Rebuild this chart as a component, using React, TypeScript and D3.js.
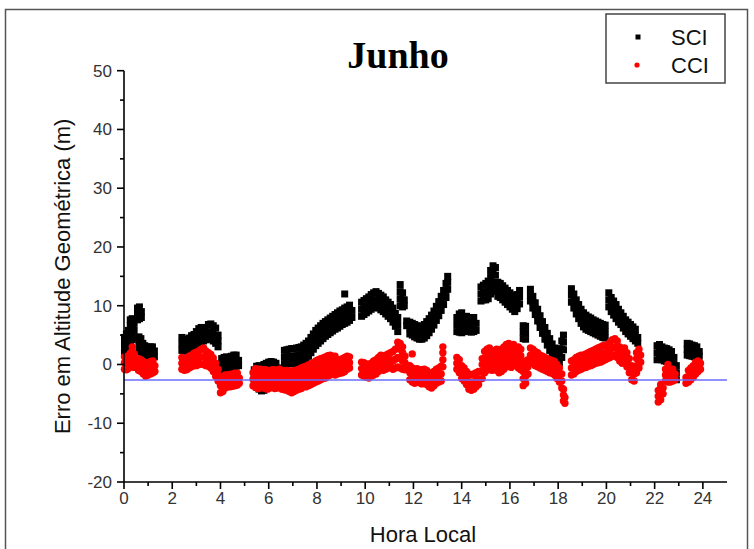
import React from "react";
import * as d3 from "d3";

const W = 754;
const H = 549;

const xTicks = [0, 2, 4, 6, 8, 10, 12, 14, 16, 18, 20, 22, 24];
const yTicks = [-20, -10, 0, 10, 20, 30, 40, 50];
const refLevel = -2.65;
const titleText = "Junho";
const xLabel = "Hora Local";
const yLabel = "Erro em Altitude Geométrica (m)";
const seriesNames = ["SCI", "CCI"];

// Each row: [hour, observed values at that hour...]
const sciRows: number[][] = [
  [0.02, 2.2, 3.4, 4.6], [0.1, 2.8, 4.0, 5.2], [0.18, 3.4, 4.6, 5.8], [0.26, 4.0, 5.3, 6.6, 7.6],
  [0.34, 4.2, 5.5, 6.8, 7.8], [0.42, 4.5, 5.8, 7.0],
  [0.56, 7.6, 8.6, 9.6], [0.64, 7.8, 8.8, 9.8], [0.72, 8.0, 9.0],
  [0.62, 2.5, 3.6, 4.7], [0.7, 2.2, 3.3, 4.4], [0.78, 1.6, 2.6, 3.6], [0.86, 1.2, 2.2, 3.2],
  [0.94, 1.1, 2.1, 3.0], [1.02, 1.0, 2.0, 2.9], [1.1, 1.1, 2.1, 3.0], [1.18, 1.2, 2.2, 3.0], [1.26, 1.3, 2.3],
  [2.4, 2.4, 3.5, 4.6], [2.5, 2.3, 3.3, 4.3], [2.6, 2.3, 3.2, 4.1], [2.7, 2.5, 3.5, 4.5],
  [2.8, 2.7, 3.8, 4.9], [2.9, 2.9, 4.0, 5.1], [3.0, 3.3, 4.4, 5.6], [3.1, 3.6, 4.8, 6.1],
  [3.2, 3.8, 5.0, 6.3], [3.3, 4.0, 5.1, 6.2], [3.4, 4.2, 5.2, 6.3], [3.5, 4.4, 5.5, 6.8],
  [3.6, 4.3, 5.5, 6.9], [3.7, 4.0, 5.3, 6.6], [3.8, 3.6, 4.8, 6.2], [3.9, 3.0, 4.0, 5.0],
  [4.05, -1.0, 0.0, 1.0], [4.15, -0.8, 0.2, 1.2], [4.25, -0.6, 0.4, 1.3], [4.35, -0.7, 0.3, 1.2],
  [4.45, -0.6, 0.4, 1.4], [4.55, -0.4, 0.6, 1.6], [4.65, -0.3, 0.6, 1.6], [4.75, -0.2, 0.7],
  [5.4, -3.5, -2.2, -0.9], [5.5, -3.8, -2.5, -1.2, -0.3], [5.6, -4.2, -2.8, -1.4, -0.2],
  [5.7, -4.5, -3.0, -1.5, -0.3], [5.8, -4.4, -2.9, -1.3, 0.0], [5.9, -3.8, -2.5, -1.1, 0.2],
  [6.0, -3.5, -2.2, -0.9, 0.4], [6.1, -3.3, -2.0, -0.7, 0.5], [6.2, -3.0, -1.8, -0.6, 0.4],
  [6.3, -3.0, -1.8, -0.6, 0.2], [6.4, -3.0, -1.9, -0.8], [6.5, -2.8, -1.7, -0.6],
  [6.65, 0.0, 1.2, 2.4], [6.75, 0.1, 1.3, 2.5], [6.85, 0.1, 1.3, 2.6], [6.95, 0.2, 1.4, 2.7],
  [7.05, 0.2, 1.4, 2.7], [7.15, 0.3, 1.5, 2.8], [7.25, 0.4, 1.6, 2.9], [7.35, 0.5, 1.8, 3.0],
  [7.45, 0.7, 2.0, 3.3], [7.55, 1.0, 2.3, 3.6],
  [7.65, 1.4, 2.7, 4.0], [7.75, 2.0, 3.3, 4.6], [7.85, 2.6, 3.9, 5.2], [7.95, 3.2, 4.5, 5.8],
  [8.05, 3.6, 4.9, 6.2], [8.15, 4.0, 5.3, 6.6], [8.25, 4.4, 5.7, 7.0], [8.35, 4.8, 6.0, 7.3],
  [8.45, 5.1, 6.3, 7.6], [8.55, 5.4, 6.6, 7.9], [8.65, 5.7, 6.9, 8.2], [8.75, 6.0, 7.2, 8.5],
  [8.85, 6.2, 7.5, 8.8], [8.95, 6.5, 7.8, 9.1], [9.05, 6.8, 8.0, 9.3], [9.15, 7.0, 8.3, 9.6, 12.0],
  [9.25, 7.2, 8.5, 9.8], [9.35, 7.5, 8.8, 10.1], [9.45, 8.0, 9.2],
  [9.85, 8.2, 9.4, 10.6], [9.95, 8.5, 9.7, 10.9], [10.05, 8.8, 10.0, 11.2], [10.15, 9.1, 10.3, 11.5],
  [10.25, 9.4, 10.6, 11.9], [10.35, 9.7, 10.9, 12.2], [10.45, 9.8, 11.0, 12.4], [10.55, 9.6, 10.8, 12.1],
  [10.65, 9.3, 10.5, 11.8], [10.75, 9.0, 10.2, 11.5], [10.85, 8.6, 9.8, 11.0], [10.95, 8.2, 9.4, 10.6],
  [11.05, 7.8, 9.0, 10.2], [11.15, 7.2, 8.4, 9.6], [11.25, 6.5, 7.6, 8.7], [11.35, 5.6, 6.8, 8.0],
  [11.45, 10.0, 11.2, 12.4, 13.6], [11.55, 9.8, 11.0, 12.2], [11.62, 10.0, 11.0], [11.72, 6.6, 7.4],
  [11.85, 5.2, 6.2, 7.2], [11.95, 5.0, 6.0, 7.0], [12.05, 4.7, 5.7, 6.8], [12.15, 4.5, 5.5, 6.6],
  [12.25, 4.3, 5.4, 6.5], [12.35, 4.3, 5.4, 6.5], [12.45, 4.5, 5.6, 6.8], [12.55, 4.9, 6.1, 7.3],
  [12.65, 5.4, 6.6, 7.8], [12.75, 6.0, 7.2, 8.4], [12.85, 6.7, 7.9, 9.1], [12.95, 7.5, 8.7, 9.9],
  [13.05, 8.3, 9.5, 10.7], [13.15, 9.2, 10.4, 11.6], [13.25, 10.2, 11.4, 12.6], [13.35, 11.4, 12.6, 13.8],
  [13.42, 12.8, 14.0, 15.0],
  [13.8, 5.6, 6.8, 8.0], [13.9, 5.5, 6.7, 7.9, 8.6], [14.0, 5.4, 6.6, 7.8, 8.8], [14.1, 5.6, 6.8, 8.0],
  [14.2, 5.8, 7.0, 8.2], [14.3, 5.6, 6.8, 8.0], [14.4, 5.5, 6.7, 7.9], [14.5, 5.6, 6.8, 8.0], [14.6, 5.8, 7.0],
  [14.8, 10.8, 12.0, 13.2], [14.9, 11.0, 12.2, 13.5], [15.0, 11.0, 12.3, 13.8], [15.1, 11.2, 12.6, 14.2],
  [15.2, 12.0, 13.4, 14.8, 16.0], [15.3, 12.6, 14.0, 15.4, 16.8], [15.4, 12.4, 13.8, 15.2, 16.5],
  [15.5, 11.6, 12.8, 14.0], [15.6, 11.4, 12.6, 13.8], [15.7, 11.0, 12.2, 13.4], [15.8, 10.6, 11.8, 13.0],
  [15.9, 10.2, 11.4, 12.6], [16.0, 9.8, 11.0, 12.2], [16.1, 9.4, 10.6, 11.8], [16.2, 9.0, 10.2, 11.4],
  [16.3, 9.5, 10.7, 11.9], [16.4, 10.3, 11.5, 12.6],
  [16.55, 4.4, 5.5, 6.6], [16.65, 4.3, 5.4, 6.5],
  [16.85, 10.8, 11.8, 12.8], [16.95, 9.6, 10.6, 11.6], [17.05, 8.5, 9.5, 10.5], [17.15, 7.4, 8.4, 9.4],
  [17.25, 6.3, 7.3, 8.3], [17.35, 5.3, 6.3, 7.3], [17.45, 4.3, 5.3, 6.3], [17.55, 3.3, 4.3, 5.3],
  [17.65, 2.4, 3.4, 4.4], [17.75, 1.5, 2.5, 3.5], [17.85, 0.8, 1.8, 2.8], [17.95, 0.3, 1.3, 2.3],
  [18.05, 0.3, 1.5, 2.7], [18.15, 1.2, 2.6, 4.0], [18.22, 2.5, 3.8, 5.0],
  [18.55, 10.6, 11.8, 12.9], [18.65, 9.6, 10.8, 12.0], [18.75, 8.6, 9.8, 11.0], [18.85, 7.8, 9.0, 10.2],
  [18.95, 7.0, 8.2, 9.4], [19.05, 6.4, 7.6, 8.8], [19.15, 6.0, 7.2, 8.4], [19.25, 5.8, 7.0, 8.1],
  [19.35, 5.6, 6.8, 7.9], [19.45, 5.4, 6.5, 7.6], [19.55, 5.2, 6.3, 7.4], [19.65, 5.0, 6.1, 7.2],
  [19.75, 4.8, 5.9, 7.0], [19.85, 4.6, 5.7, 6.8], [19.95, 4.5, 5.6, 6.7],
  [20.1, 9.8, 11.0, 12.2], [20.2, 9.0, 10.2, 11.4], [20.3, 8.4, 9.6, 10.8], [20.4, 7.8, 9.0, 10.2],
  [20.5, 7.2, 8.4, 9.4], [20.6, 6.8, 7.8, 8.8], [20.7, 6.2, 7.2, 8.2], [20.8, 5.6, 6.6, 7.6],
  [20.9, 5.2, 6.2, 7.2], [21.0, 4.8, 5.8, 6.8], [21.1, 4.4, 5.4, 6.4], [21.2, 4.0, 5.0, 6.0], [21.3, 3.6, 4.6],
  [22.1, 0.8, 2.0, 3.2], [22.2, 1.0, 2.2, 3.4], [22.3, 0.8, 1.9, 3.0], [22.4, 0.6, 1.7, 2.8],
  [22.5, 0.5, 1.6, 2.7], [22.6, 0.3, 1.4, 2.5], [22.7, 0.0, 1.1, 2.2], [22.8, -1.2, 0.0, 1.2],
  [22.9, -2.6, -1.4, -0.2],
  [23.35, 1.6, 2.6, 3.6], [23.45, 1.5, 2.5, 3.5], [23.55, 1.4, 2.4, 3.3], [23.65, 1.3, 2.3, 3.2],
  [23.75, 1.3, 2.2, 3.0], [23.85, 1.4, 2.2],
];

const cciRows: number[][] = [
  [0.02, -0.8, 0.3, 1.3], [0.1, -0.9, 0.2, 1.2], [0.18, -0.7, 0.4, 1.5], [0.26, -0.4, 0.7, 1.9],
  [0.34, -0.2, 1.0, 2.3, 3.0], [0.42, -0.5, 0.6, 1.8],
  [0.6, -1.0, 0.0, 1.0], [0.7, -1.2, -0.2, 0.8], [0.8, -1.6, -0.6, 0.5], [0.9, -2.0, -0.9, 0.3],
  [1.0, -1.8, -0.8, 0.3], [1.1, -1.6, -0.6, 0.5], [1.2, -1.4, -0.4, 0.6], [1.28, -1.2, -0.2],
  [2.4, -0.8, 0.2, 1.2], [2.5, -1.0, 0.0, 1.0], [2.6, -0.9, 0.1, 1.1], [2.7, -0.6, 0.4, 1.4],
  [2.8, -0.4, 0.6, 1.6], [2.9, -0.2, 0.8, 1.9], [3.0, -0.2, 0.9, 2.1], [3.1, 0.0, 1.1, 2.3],
  [3.2, 0.1, 1.3, 2.6], [3.3, 0.0, 1.3, 2.8], [3.4, -0.2, 1.0, 2.3], [3.5, -0.3, 0.8, 2.0],
  [3.6, -0.6, 0.5, 1.7], [3.7, -1.2, -0.1, 1.1], [3.8, -2.0, -0.9, 0.2], [3.9, -2.8, -1.8, -0.8],
  [4.0, -4.8, -3.6, -2.4], [4.1, -4.6, -3.4, -2.2], [4.2, -4.0, -2.9, -1.8], [4.3, -3.8, -2.8, -1.8],
  [4.4, -3.8, -2.8, -1.7], [4.5, -3.7, -2.7, -1.6], [4.6, -3.6, -2.6, -1.5], [4.7, -3.5, -2.5, -1.5],
  [4.78, -3.2, -2.3],
  [5.35, -3.6, -2.5, -1.4], [5.45, -3.9, -2.8, -1.7, -0.7], [5.55, -4.1, -3.0, -1.9, -0.8],
  [5.65, -4.0, -2.9, -1.8, -0.8], [5.75, -3.8, -2.8, -1.8, -0.9], [5.85, -4.1, -3.0, -1.9, -0.9],
  [5.95, -4.2, -3.1, -2.0, -1.0], [6.05, -4.0, -3.0, -2.0, -1.0], [6.15, -3.9, -2.9, -1.9, -0.9],
  [6.25, -4.1, -3.0, -1.9, -0.9], [6.35, -4.0, -3.0, -2.0, -1.0], [6.45, -3.8, -2.8, -1.8, -0.8],
  [6.55, -4.2, -3.1, -2.0, -1.0], [6.65, -4.3, -3.2, -2.1, -1.1], [6.75, -4.4, -3.3, -2.2, -1.0],
  [6.85, -4.6, -3.4, -2.2, -1.1], [6.95, -4.8, -3.6, -2.4, -1.2], [7.05, -4.6, -3.4, -2.2, -1.0],
  [7.15, -4.4, -3.3, -2.2, -1.0], [7.25, -4.2, -3.1, -2.0, -0.8], [7.35, -4.1, -3.0, -1.8, -0.6],
  [7.45, -3.8, -2.7, -1.5, -0.4], [7.55, -3.8, -2.6, -1.4, -0.3], [7.65, -3.6, -2.4, -1.2, -0.1],
  [7.75, -3.4, -2.2, -1.0, 0.1], [7.85, -3.2, -2.0, -0.8, 0.3], [7.95, -3.0, -1.8, -0.6, 0.6],
  [8.05, -2.8, -1.6, -0.4, 0.8], [8.15, -2.6, -1.4, -0.2, 1.0], [8.25, -2.4, -1.2, 0.0, 1.1],
  [8.35, -2.3, -1.1, 0.1, 1.3], [8.45, -2.0, -0.8, 0.4, 1.5], [8.55, -1.8, -0.6, 0.6, 1.6],
  [8.65, -1.6, -0.5, 0.6, 1.4], [8.75, -1.8, -0.6, 0.6, 1.4], [8.85, -1.6, -0.5, 0.6],
  [8.95, -1.5, -0.4, 0.8], [9.05, -1.4, -0.2, 1.0], [9.15, -1.2, -0.1, 1.2], [9.25, -0.8, 0.2, 1.4],
  [9.35, -0.6, 0.3, 1.3],
  [9.85, -1.8, -0.7, 0.4], [9.95, -2.0, -0.9, 0.3], [10.05, -2.2, -1.1, 0.1], [10.15, -2.3, -1.2, 0.0],
  [10.25, -2.0, -0.9, 0.2], [10.35, -1.8, -0.6, 0.6], [10.45, -1.6, -0.4, 0.8], [10.55, -1.2, 0.0, 1.2],
  [10.65, -0.8, 0.4, 1.6], [10.75, -1.0, 0.2, 1.4], [10.85, -0.8, 0.4, 1.6], [10.95, -0.6, 0.6, 1.8],
  [11.05, -0.4, 0.8, 2.0], [11.15, -0.8, 0.6, 2.2], [11.25, -0.6, 0.9, 2.6],
  [11.35, -0.4, 1.2, 2.8, 3.8], [11.45, -0.6, 1.0, 2.6, 3.6], [11.55, -0.8, 0.6, 2.0, 3.0],
  [11.65, -0.9, 0.3, 1.4],
  [11.85, -2.6, -1.4, -0.2], [11.95, -3.0, -1.8, -0.6, 1.8], [12.05, -3.2, -2.0, -0.8],
  [12.15, -3.0, -1.9, -0.7], [12.25, -3.1, -2.0, -0.9], [12.35, -3.3, -2.1, -0.9], [12.45, -3.2, -2.0, -0.8],
  [12.55, -3.4, -2.2, -1.0], [12.65, -3.8, -2.6, -1.4], [12.75, -4.0, -2.8, -1.6], [12.85, -3.6, -2.4, -1.2],
  [12.95, -3.2, -2.0, -0.8], [13.05, -3.0, -1.8, -0.6], [13.15, -2.8, -1.6, -0.3],
  [13.22, -0.4, 0.8, 2.0, 3.0],
  [13.8, -0.8, 0.2, 1.2], [13.9, -1.4, -0.3, 0.8], [14.0, -2.4, -1.3, -0.2], [14.1, -2.8, -1.7, -0.6],
  [14.2, -3.4, -2.3, -1.2], [14.3, -4.2, -3.0, -1.6], [14.4, -4.4, -3.2, -1.8], [14.5, -4.2, -3.0, -1.6],
  [14.6, -3.8, -2.7, -1.4], [14.7, -3.4, -2.4, -1.2],
  [14.85, -2.4, -1.2, 0.0, 1.0], [14.95, -1.4, -0.2, 1.0, 2.2], [15.05, -1.0, 0.2, 1.4, 2.6],
  [15.15, -0.8, 0.4, 1.6, 2.8], [15.25, -1.0, 0.2, 1.4, 2.4], [15.35, -0.9, 0.3, 1.5],
  [15.45, -1.0, 0.2, 1.4, 2.6], [15.55, -1.4, -0.2, 1.0, 2.4], [15.65, -1.2, 0.0, 1.2, 2.6],
  [15.75, -0.8, 0.4, 1.6, 3.0], [15.85, -0.4, 0.8, 2.0, 3.4], [15.95, -0.3, 0.9, 2.2, 3.6],
  [16.05, -0.5, 0.7, 1.9, 3.2], [16.15, -0.2, 1.0, 2.2, 3.4], [16.25, 0.0, 1.2, 2.4],
  [16.35, -0.6, 0.6, 1.8, 3.0], [16.45, -0.9, 0.3, 1.5, 2.6],
  [16.55, -3.6, -2.4, -1.2, 0.0], [16.65, -3.2, -2.0, -0.8, 0.6], [16.75, -1.6, -0.4, 0.8],
  [16.85, 0.4, 1.6, 2.8], [16.95, 0.2, 1.4, 2.6], [17.05, -0.2, 1.0, 2.2], [17.15, -0.4, 0.8, 2.0],
  [17.25, -0.6, 0.5, 1.6], [17.35, -0.8, 0.3, 1.4], [17.45, -1.0, 0.1, 1.2], [17.55, -1.2, -0.1, 1.0],
  [17.65, -1.4, -0.3, 0.8], [17.75, -1.5, -0.4, 0.7], [17.85, -1.8, -0.6, 0.5], [17.95, -2.4, -1.2, 0.0],
  [18.05, -3.0, -1.8, -0.6], [18.15, -4.0, -2.8, -1.6], [18.22, -6.2, -5.2, -4.2], [18.28, -6.6, -5.6],
  [18.55, -1.8, -0.6, 0.6], [18.65, -1.6, -0.4, 0.8], [18.75, -1.2, 0.0, 1.2], [18.85, -1.0, 0.2, 1.4],
  [18.95, -0.8, 0.4, 1.6], [19.05, -0.6, 0.5, 1.6], [19.15, -0.5, 0.7, 1.8], [19.25, -0.3, 0.9, 2.0],
  [19.35, -0.2, 1.0, 2.2], [19.45, 0.0, 1.2, 2.4], [19.55, 0.2, 1.4, 2.6], [19.65, 0.3, 1.5, 2.8],
  [19.75, 0.4, 1.7, 3.0], [19.85, 0.6, 1.9, 3.2], [19.95, 0.8, 2.0, 3.2],
  [20.05, 1.0, 2.2, 3.4], [20.15, 1.2, 2.5, 3.8], [20.25, 1.4, 2.8, 4.2], [20.35, 1.6, 3.0, 4.4],
  [20.45, 1.2, 2.6, 4.0], [20.55, 0.6, 1.8, 3.0], [20.65, 0.2, 1.4, 2.6], [20.75, 0.4, 1.6, 2.8],
  [20.85, -0.4, 0.8, 2.0], [20.95, -1.4, -0.2, 1.0], [21.05, -2.6, -1.4, -0.2], [21.15, -2.8, -1.6, -0.4],
  [21.25, -1.4, -0.2, 1.0, 2.0], [21.35, -0.6, 0.6, 1.8, 2.6], [21.42, 0.4, 1.6],
  [22.15, -6.4, -5.4, -4.4], [22.25, -6.0, -5.0, -4.0, -3.4], [22.35, -5.0, -4.0],
  [22.45, -2.8, -1.8, -0.8], [22.55, -3.0, -2.0, -0.9, 0.0], [22.65, -3.0, -2.0, -1.0],
  [22.75, -2.8, -1.8, -0.8], [22.85, -2.6, -1.6],
  [23.3, -3.2, -2.2], [23.4, -3.0, -2.0, -1.0], [23.5, -2.6, -1.6, -0.6], [23.6, -2.2, -1.2, -0.2],
  [23.7, -1.6, -0.6, 0.4], [23.8, -1.2, -0.2, 0.6], [23.9, -0.8, 0.2],
];

function toPoints(rows: number[][]) {
  const pts: { h: number; v: number }[] = [];
  rows.forEach((r) => r.slice(1).forEach((v) => pts.push({ h: r[0], v })));
  return pts;
}

export default function App() {
  const x = d3.scaleLinear().domain([0, 25]).range([124, 727]);
  const y = d3.scaleLinear().domain([-20, 50]).range([482, 70.7]);
  const sci = toPoints(sciRows);
  const cci = toPoints(cciRows);
  const xMinor = d3.range(1, 25, 2);
  const yMinor = d3.range(-15, 50, 10);
  const sq = 7;
  const font = "'Liberation Sans', Arial, sans-serif";

  return (
    <svg width={W} height={H} style={{ position: "absolute", left: 0, top: 0, background: "#fff" }}>
      <rect x={0} y={0} width={W} height={H} fill="#fff" />
      <rect x={5.5} y={9.5} width={742} height={600} fill="none" stroke="#555" strokeWidth={1.5} />
      <g fill="#000">
        {sci.map((p, i) => (
          <rect key={i} x={x(p.h) - sq / 2} y={y(p.v) - sq / 2} width={sq} height={sq} />
        ))}
      </g>
      <g fill="#ff0000">
        {cci.map((p, i) => (
          <circle key={i} cx={x(p.h)} cy={y(p.v)} r={3.7} />
        ))}
      </g>
      <line x1={x(0)} x2={x(25)} y1={y(refLevel)} y2={y(refLevel)} stroke="#6b6bff" strokeWidth={1.5} />
      <g stroke="#000" strokeWidth={1.6}>
        <line x1={x(0)} x2={x(0)} y1={y(-20)} y2={y(50)} />
        <line x1={x(0)} x2={x(25)} y1={y(-20)} y2={y(-20)} />
        {yTicks.map((t) => (
          <line key={"yt" + t} x1={x(0) - 7} x2={x(0)} y1={y(t)} y2={y(t)} />
        ))}
        {yMinor.map((t) => (
          <line key={"ym" + t} x1={x(0) - 4} x2={x(0)} y1={y(t)} y2={y(t)} />
        ))}
        {xTicks.map((t) => (
          <line key={"xt" + t} x1={x(t)} x2={x(t)} y1={y(-20)} y2={y(-20) + 7} />
        ))}
        {xMinor.map((t) => (
          <line key={"xm" + t} x1={x(t)} x2={x(t)} y1={y(-20)} y2={y(-20) + 4} />
        ))}
      </g>
      <g fontFamily={font} fontSize={17} fill="#333">
        {yTicks.map((t) => (
          <text key={"yl" + t} x={x(0) - 12} y={y(t)} dy="0.35em" textAnchor="end">
            {t}
          </text>
        ))}
        {xTicks.map((t) => (
          <text key={"xl" + t} x={x(t)} y={y(-20) + 22} textAnchor="middle">
            {t}
          </text>
        ))}
      </g>
      <text x={423} y={542} textAnchor="middle" fontFamily={font} fontSize={22} fill="#111">
        {xLabel}
      </text>
      <text
        transform={`translate(70,${y(15)}) rotate(-90)`}
        textAnchor="middle"
        fontFamily={font}
        fontSize={22}
        fill="#111"
      >
        {yLabel}
      </text>
      <text x={398} y={68} textAnchor="middle" fontFamily="'Liberation Serif', 'Times New Roman', serif" fontWeight="bold" fontSize={38} fill="#000">
        {titleText}
      </text>
      <rect x={606} y={14} width={119} height={69} fill="#fff" stroke="#444" strokeWidth={1.5} />
      <rect x={638 - 2.5} y={37 - 2.5} width={5} height={5} fill="#000" />
      <circle cx={637} cy={65} r={2.6} fill="#ff0000" />
      <g fontFamily={font} fontSize={22} fill="#111">
        <text x={671} y={45}>{seriesNames[0]}</text>
        <text x={671} y={73}>{seriesNames[1]}</text>
      </g>
    </svg>
  );
}
